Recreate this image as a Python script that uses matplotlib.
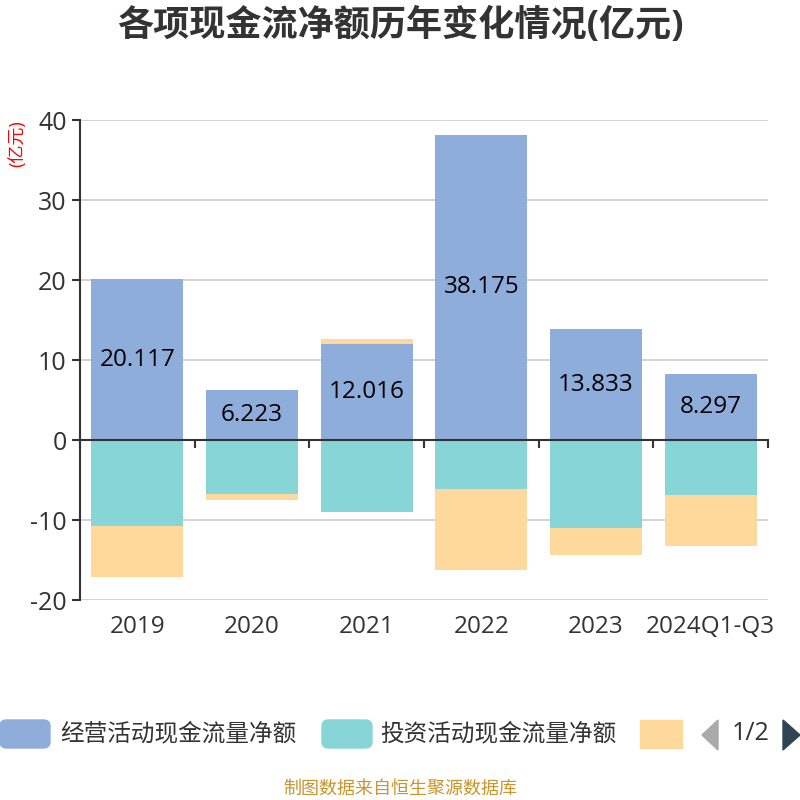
import matplotlib
matplotlib.use('Agg')
import matplotlib.pyplot as plt
import numpy as np
from matplotlib.patches import FancyBboxPatch, Polygon, Rectangle

plt.rcParams['font.family'] = ['Open Sans', 'Noto Sans CJK SC', 'DejaVu Sans']
plt.rcParams['axes.unicode_minus'] = False

years = ['2019', '2020', '2021', '2022', '2023', '2024Q1-Q3']
operating = [20.117, 6.223, 12.016, 38.175, 13.833, 8.297]
investing = [-10.79, -6.75, -8.96, -6.12, -11.04, -6.88]
financing = [-6.30, -0.75, 0.60, -10.13, -3.33, -6.33]
series_names = ['经营活动现金流量净额', '投资活动现金流量净额', '筹资活动现金流量净额']
COLORS = ['#8eaddb', '#88d5d8', '#fed99b']
TXT = '#333333'

fig = plt.figure(figsize=(8, 8), dpi=100)
ax = fig.add_axes([0.1, 0.25, 0.86, 0.60])

x = np.arange(len(years))
w = 0.8
pos_base = np.zeros(len(years))
neg_base = np.zeros(len(years))
for vals, col in zip([operating, investing, financing], COLORS):
    vals = np.array(vals)
    bottoms = np.where(vals >= 0, pos_base, neg_base)
    ax.bar(x, vals, w, bottom=bottoms, color=col, zorder=3)
    pos_base = pos_base + np.where(vals >= 0, vals, 0)
    neg_base = neg_base + np.where(vals < 0, vals, 0)

for xi, v in zip(x, operating):
    ax.text(xi, v / 2, f'{v:.3f}', ha='center', va='center', fontsize=17.5, color='black', zorder=4)

ax.set_xlim(-0.5, len(years) - 0.5)
ax.set_ylim(-20, 40)
ax.set_yticks([-20, -10, 0, 10, 20, 30, 40])
ax.yaxis.grid(True, color='#cccccc', linewidth=1.2, zorder=0)
ax.tick_params(axis='y', labelsize=18, labelcolor=TXT, color=TXT, length=6, width=1.5)
for s in ['top', 'right']:
    ax.spines[s].set_visible(False)
ax.spines['left'].set_color(TXT)
ax.spines['left'].set_linewidth(1.5)
ax.spines['bottom'].set_position(('data', 0))
ax.spines['bottom'].set_color(TXT)
ax.spines['bottom'].set_linewidth(1.5)
ax.spines['bottom'].set_zorder(5)
ax.set_xticks(np.arange(len(years) + 1) - 0.5)
ax.set_xticklabels([])
ax.tick_params(axis='x', length=6, width=1.5, color=TXT)
for xi, lab in zip(x, years):
    ax.annotate(lab, (xi, -20), xytext=(0, -11), textcoords='offset points',
                ha='center', va='top', fontsize=17.5, color=TXT)

fig.text(0.022, 0.82, '(亿元)', rotation=90, color='red', fontsize=13, ha='center', va='center')
fig.text(0.5, 0.966, '各项现金流净额历年变化情况(亿元)', ha='center', va='center',
         fontsize=26, fontweight='bold', color=TXT)

# legend (paged)
def box(x0, col, wpx=50):
    fig.patches.append(FancyBboxPatch((x0 / 800, 1 - 748 / 800), wpx / 800, 28 / 800,
                                      boxstyle='round,pad=0,rounding_size=0.008',
                                      transform=fig.transFigure, color=col))
box(0, COLORS[0])
fig.text(60 / 800, 1 - 734 / 800, series_names[0], fontsize=17, color=TXT, va='center')
box(322, COLORS[1])
fig.text(380 / 800, 1 - 734 / 800, series_names[1], fontsize=17, color=TXT, va='center')
fig.patches.append(Rectangle((640 / 800, 1 - 748 / 800), 42 / 800, 28 / 800,
                             transform=fig.transFigure, color=COLORS[2]))
fig.patches.append(Polygon([(718 / 800, 1 - 720 / 800), (718 / 800, 1 - 750 / 800), (702 / 800, 1 - 735 / 800)],
                           transform=fig.transFigure, color='#aaaaaa'))
fig.text(751 / 800, 1 - 734 / 800, '1/2', fontsize=18, color=TXT, ha='center', va='center')
fig.patches.append(Polygon([(783 / 800, 1 - 720 / 800), (783 / 800, 1 - 750 / 800), (800 / 800, 1 - 735 / 800)],
                           transform=fig.transFigure, color='#2f4554'))

fig.text(0.5, 1 - 789 / 800, '制图数据来自恒生聚源数据库', ha='center', va='center',
         fontsize=13, color='#c8962a')

fig.savefig('out.png', dpi=100)
